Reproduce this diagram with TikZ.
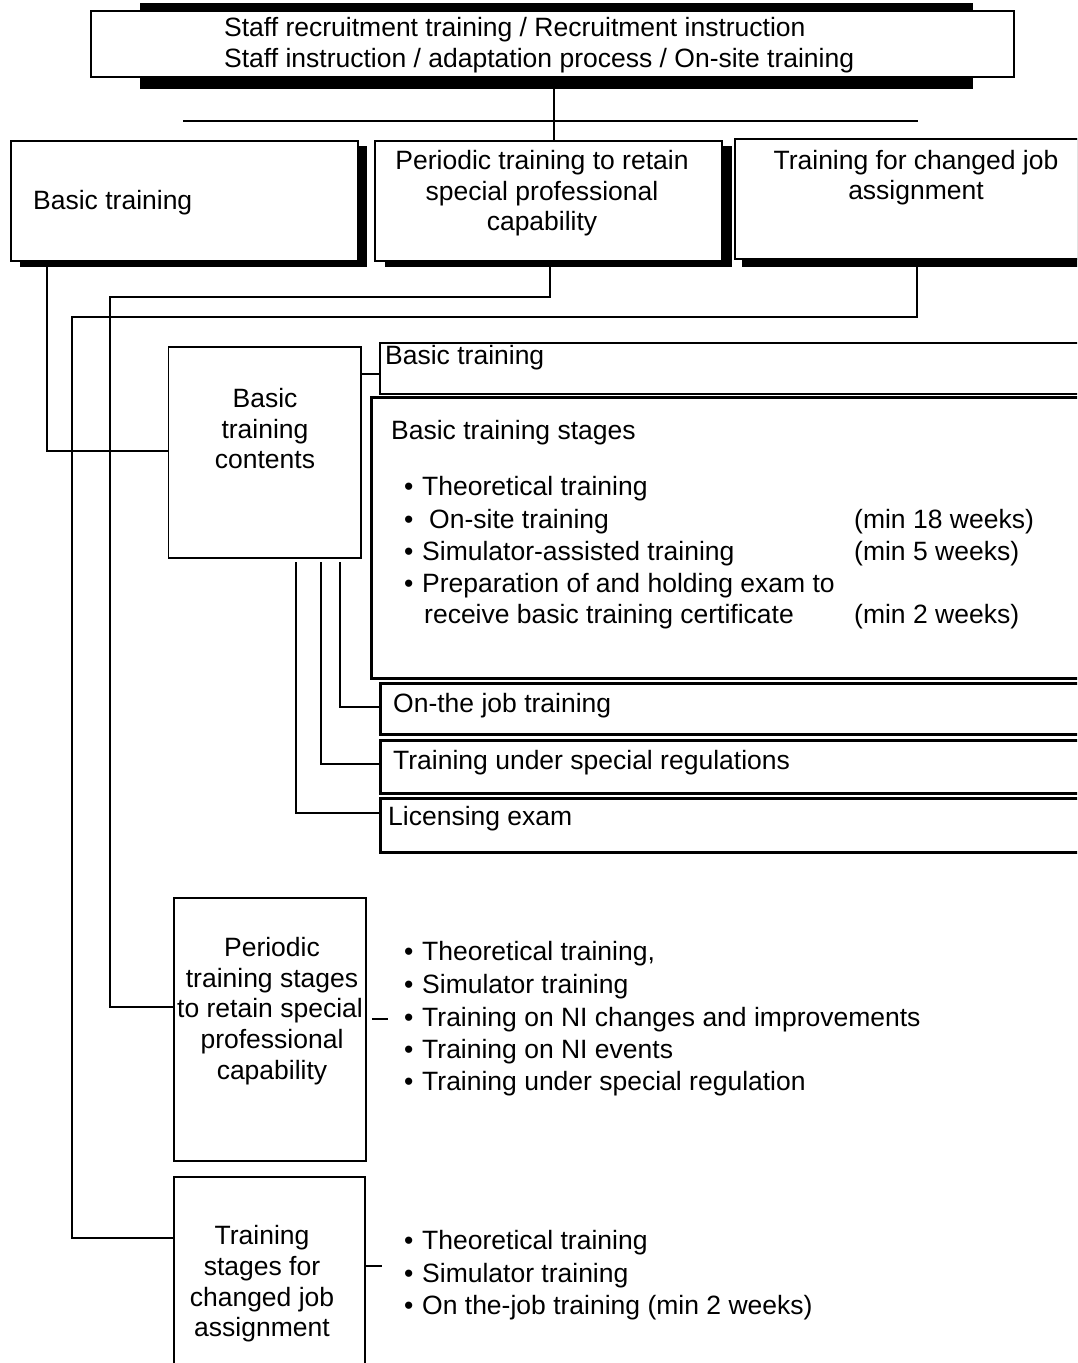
\documentclass[tikz,border=0pt]{standalone}
\usepackage{fontspec}
\setmainfont{Liberation Sans}
\newcommand{\bitem}[1]{\makebox[18pt][l]{\textbullet}#1}
\begin{document}
\begin{tikzpicture}[x=1pt,y=-1pt,
  txt/.style={font=\fontsize{26.5}{31}\selectfont, inner sep=0pt, anchor=base west},
  ctxt/.style={font=\fontsize{26.5}{31}\selectfont, inner sep=0pt, anchor=base},
  box/.style={draw, line width=1.9pt, fill=white, inner sep=0pt, anchor=north west},
  tbox/.style={box, line width=2.5pt},
  shadowbox/.style={fill=black, inner sep=0pt, anchor=north west},
  conn/.style={line width=1.9pt}]
\useasboundingbox (0,0) rectangle (1077,1363);
\clip (0,0) rectangle (1077,1363);
% top box
\node[shadowbox, minimum width=833pt, minimum height=86pt] (topsh) at (140,3) {};
\node[box, minimum width=923pt, minimum height=66pt] (top) at (90,10) {};
\node[txt] (t1) at (224,36) {Staff recruitment training / Recruitment instruction};
\node[txt] (t2) at (224,67) {Staff instruction / adaptation process / On-site training};
% row boxes
\node[shadowbox, minimum width=347pt, minimum height=121pt] (b1sh) at (20,146) {};
\node[box, minimum width=347pt, minimum height=120pt] (b1) at (10,140) {};
\node[shadowbox, minimum width=347pt, minimum height=121pt] (b2sh) at (385,146) {};
\node[box, minimum width=347pt, minimum height=120pt] (b2) at (374,140) {};
\node[shadowbox, minimum width=400pt, minimum height=129pt] (b3sh) at (742,138) {};
\node[box, minimum width=400pt, minimum height=120pt] (b3) at (734,138) {};
\node[txt] (b1t) at (33,209) {Basic training};
\node[ctxt] (b2t1) at (542,169) {Periodic training to retain};
\node[ctxt] (b2t2) at (542,200) {special professional};
\node[ctxt] (b2t3) at (542,230) {capability};
\node[ctxt] (b3t1) at (916,169) {Training for changed job};
\node[ctxt] (b3t2) at (916,199) {assignment};
% basic training contents
\node[box, minimum width=192.5pt, minimum height=211pt] (cont) at (167.5,346) {};
\node[ctxt] (ct1) at (265,407) {Basic};
\node[ctxt] (ct2) at (265,438) {training};
\node[ctxt] (ct3) at (265,468) {contents};
% right boxes
\node[box, minimum width=750pt, minimum height=51pt] (sb) at (379,342) {};
\node[txt] (sbt) at (385,364) {Basic training};
\node[tbox, minimum width=750pt, minimum height=281pt] (st) at (370,396) {};
\node[txt] (stt) at (391,439) {Basic training stages};
\node[txt] (s1) at (404,495) {\bitem{Theoretical training}};
\node[txt] (s2) at (404,528) {\bitem{\hspace{7pt}On-site training}};
\node[txt] (s3) at (404,560) {\bitem{Simulator-assisted training}};
\node[txt] (s4) at (404,592) {\bitem{Preparation of and holding exam to}};
\node[txt] (s5) at (424,623) {receive basic training certificate};
\node[txt] (m1) at (854,528) {(min 18 weeks)};
\node[txt] (m2) at (854,560) {(min 5 weeks)};
\node[txt] (m3) at (854,623) {(min 2 weeks)};
\node[tbox, minimum width=750pt, minimum height=51pt] (ojt) at (379,682) {};
\node[txt] (ojtt) at (393,712) {On-the job training};
\node[tbox, minimum width=750pt, minimum height=53pt] (reg) at (379,739) {};
\node[txt] (regt) at (393,769) {Training under special regulations};
\node[tbox, minimum width=750pt, minimum height=54pt] (lic) at (379,797) {};
\node[txt] (lict) at (388,825) {Licensing exam};
% periodic box
\node[box, minimum width=192pt, minimum height=263pt] (pb) at (173,897) {};
\node[ctxt] (pt1) at (272,956) {Periodic};
\node[ctxt] (pt2) at (272,987) {training stages};
\node[ctxt] (pt3) at (270,1017) {to retain special};
\node[ctxt] (pt4) at (272,1048) {professional};
\node[ctxt] (pt5) at (272,1079) {capability};
\node[txt] (p1) at (404,960) {\bitem{Theoretical training,}};
\node[txt] (p2) at (404,993) {\bitem{Simulator training}};
\node[txt] (p3) at (404,1026) {\bitem{Training on NI changes and improvements}};
\node[txt] (p4) at (404,1058) {\bitem{Training on NI events}};
\node[txt] (p5) at (404,1090) {\bitem{Training under special regulation}};
% changed job box
\node[box, minimum width=191pt, minimum height=250pt] (cb) at (173,1176) {};
\node[ctxt] (cbt1) at (262,1244) {Training};
\node[ctxt] (cbt2) at (262,1275) {stages for};
\node[ctxt] (cbt3) at (262,1306) {changed job};
\node[ctxt] (cbt4) at (262,1336) {assignment};
\node[txt] (c1) at (404,1249) {\bitem{Theoretical training}};
\node[txt] (c2) at (404,1282) {\bitem{Simulator training}};
\node[txt] (c3) at (404,1314) {\bitem{On the-job training (min 2 weeks)}};
% guide coordinates
\coordinate (xa) at (554,0);
\coordinate (xb) at (550,0);
\coordinate (xc) at (917,0);
\coordinate (xd) at (47,0);
\coordinate (hl1) at (183,121);
\coordinate (hl2) at (918,121);
\coordinate (pc1) at (110,297);
\coordinate (pc2) at (173,1007);
\coordinate (qc1) at (72,317);
\coordinate (qc2) at (173,1238);
\coordinate (rc1) at (167.5,451);
\coordinate (sy) at (0,374);
\coordinate (k1) at (340,562);
\coordinate (k1e) at (379,707);
\coordinate (k2) at (321,562);
\coordinate (k2e) at (379,764);
\coordinate (k3) at (296,562);
\coordinate (k3e) at (379,813);
\coordinate (py) at (0,1019);
\coordinate (pe) at (388,1019);
\coordinate (cy) at (0,1266);
\coordinate (ce) at (382,1266);
% connectors
\draw[conn] (topsh.south -| xa) -- (b2.north -| xa);
\draw[conn] (hl1) -- (hl2);
\draw[conn] (b2sh.south -| xb) |- (pc1) |- (pc2);
\draw[conn] (b3sh.south -| xc) |- (qc1) |- (qc2);
\draw[conn] (b1sh.south -| xd) |- (rc1);
\draw[conn] (cont.east |- sy) -- (sb.west |- sy);
\draw[conn] (k1) |- (k1e);
\draw[conn] (k2) |- (k2e);
\draw[conn] (k3) |- (k3e);
\draw[conn] ([xshift=5pt]pb.east |- py) -- (pe);
\draw[conn] (cb.east |- cy) -- (ce);
\end{tikzpicture}
\end{document}
